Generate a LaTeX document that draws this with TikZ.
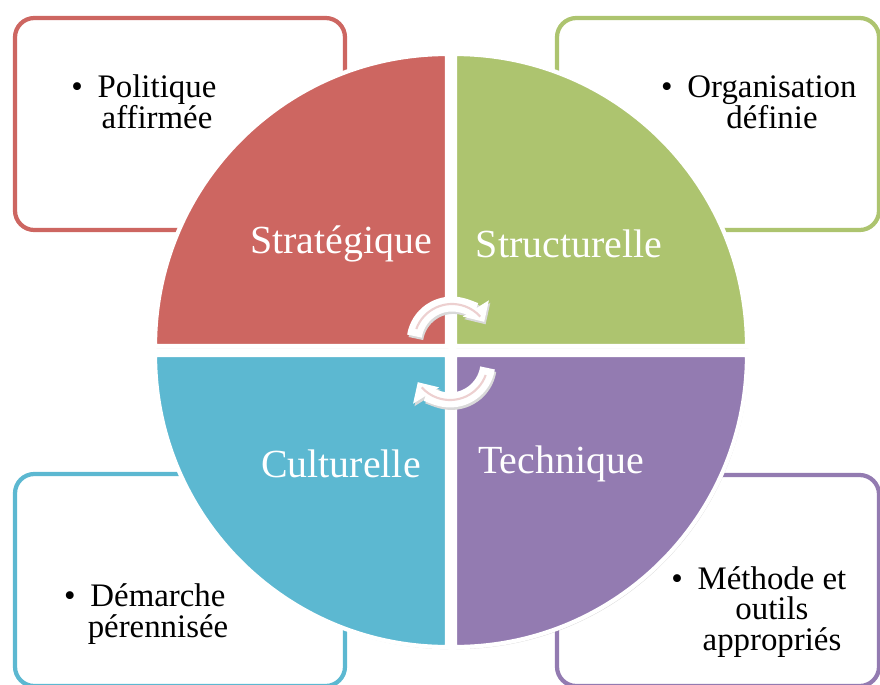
\documentclass[tikz,border=0pt]{standalone}
\usepackage{fontspec}
\setmainfont{Liberation Serif}
\usetikzlibrary{arrows.meta,shadows}

\definecolor{stratred}{RGB}{205,102,97}
\definecolor{structgreen}{RGB}{173,196,111}
\definecolor{cultblue}{RGB}{92,184,209}
\definecolor{techpurple}{RGB}{147,123,177}
\definecolor{cyclepink}{RGB}{237,208,208}

\tikzset{
  infobox/.style={draw=#1, line width=2.4pt, rounded corners=11pt, fill=white},
  quadrant/.style={fill=#1, draw=white, line width=2.4pt,
    drop shadow={opacity=0.3, shadow xshift=0.8pt, shadow yshift=-1.2pt}},
  itemtext/.style={font=\fontsize{18.7}{17.6}\selectfont, align=center, text=black, inner sep=0pt},
  quadlabel/.style={font=\fontsize{22.7}{26}\selectfont, text=white, inner sep=0pt},
  cyclearrow/.style={line width=8.5pt, -{Triangle[width=17pt,length=9pt]}},
  cycleline/.style={cyclepink, line width=1.2pt}
}

\begin{document}
\begin{tikzpicture}[x=0.02cm, y=-0.02cm]

  \useasboundingbox (0,0) rectangle (880,684);

  % boxes
  \draw[infobox=stratred]    (15,18)   rectangle (345,230);
  \draw[infobox=structgreen] (557,18)  rectangle (879,230);
  \draw[infobox=cultblue]    (15,474)  rectangle (345,686);
  \draw[infobox=techpurple]  (557,475) rectangle (879,686);

  \node[itemtext] (politique)    at (157,102) {\llap{\textbullet\hspace{0.45em}}Politique\\affirmée};
  \node[itemtext] (organisation) at (772,102) {\llap{\textbullet\hspace{0.45em}}Organisation\\définie};
  \node[itemtext] (demarche)     at (158,614) {\llap{\textbullet\hspace{0.45em}}Démarche\\pérennisée};
  \node[itemtext] (methode)      at (772,612) {\llap{\textbullet\hspace{0.45em}}Méthode et\\outils\\appropriés};

  % quadrants
  \filldraw[quadrant=stratred]    (447,346) -- ++(-292,0) arc[start angle=180, end angle=270, radius=292] -- cycle;
  \filldraw[quadrant=structgreen] (455,346) -- ++(0,-292) arc[start angle=270, end angle=360, radius=292] -- cycle;
  \filldraw[quadrant=cultblue]    (447,355) -- ++(-292,0) arc[start angle=180, end angle=90, radius=292] -- cycle;
  \filldraw[quadrant=techpurple]  (455,355) -- ++(292,0) arc[start angle=0, end angle=90, radius=292] -- cycle;

  \node[quadlabel] (strategique)  at (341,244) {Stratégique};
  \node[quadlabel] (structurelle) at (569,244) {Structurelle};
  \node[quadlabel] (culturelle)   at (341,464) {Culturelle};
  \node[quadlabel] (technique)    at (561,464) {Technique};

  % cycle arrows
  \coordinate (topc) at (452,342);
  \coordinate (botc) at (450,362);

  \draw[cyclearrow, black!15, transform canvas={shift={(0.8pt,-1.4pt)}}]
    ([shift={(189:38)}]topc) arc[start angle=189, end angle=328, radius=38];
  \draw[cyclearrow, black!15, transform canvas={shift={(0.8pt,-1.4pt)}}]
    ([shift={(9:38)}]botc) arc[start angle=9, end angle=148, radius=38];

  \draw[cyclearrow, white] ([shift={(189:38)}]topc) arc[start angle=189, end angle=328, radius=38];
  \draw[cyclearrow, white] ([shift={(9:38)}]botc) arc[start angle=9, end angle=148, radius=38];

  \draw[cycleline] ([shift={(200:38)}]topc) arc[start angle=200, end angle=318, radius=38];
  \draw[cycleline] ([shift={(20:38)}]botc) arc[start angle=20, end angle=138, radius=38];

\end{tikzpicture}
\end{document}
